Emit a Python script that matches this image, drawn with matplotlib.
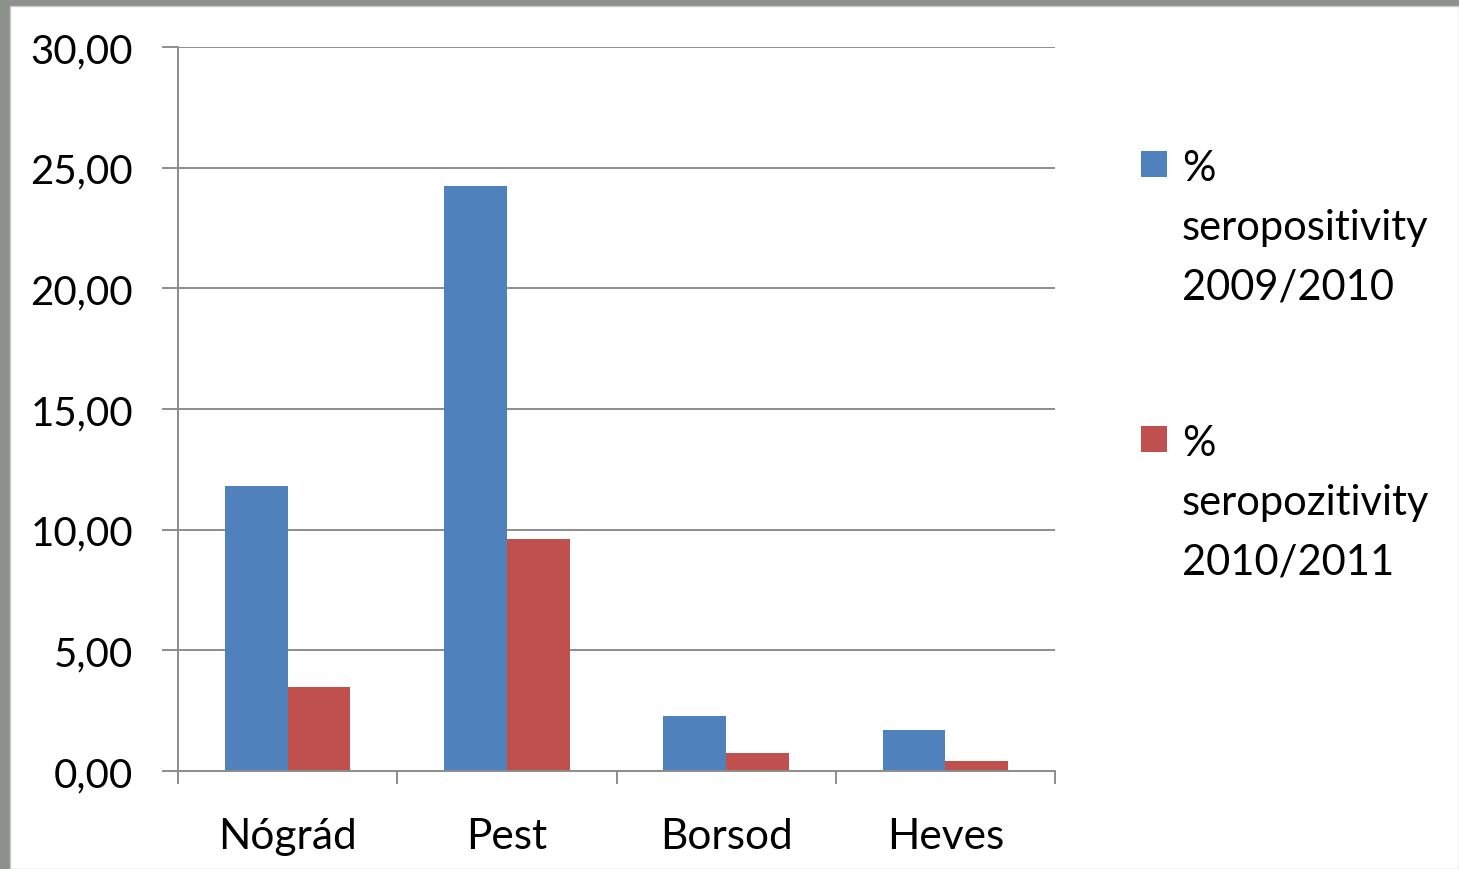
import matplotlib
matplotlib.use("Agg")
import matplotlib.pyplot as plt
import numpy as np
from matplotlib.patches import Rectangle
from matplotlib.ticker import FuncFormatter, FixedLocator

categories = ["Nógrád", "Pest", "Borsod", "Heves"]
series_labels = ["%\nseropositivity\n2009/2010", "%\nseropozitivity\n2010/2011"]
values_2009_2010 = [11.83, 24.22, 2.27, 1.70]
values_2010_2011 = [3.48, 9.62, 0.75, 0.42]
colors = ["#4F81BD", "#C0504D"]
yticks = [0, 5, 10, 15, 20, 25, 30]

FONT = "Lato"
W, H = 1459, 870
fig = plt.figure(figsize=(W / 100, H / 100), dpi=100)
fig.patch.set_facecolor("#8c918c")
bg = Rectangle((10 / W, 0), 1 - 10 / W, 1 - 7 / H, transform=fig.transFigure,
               facecolor="white", edgecolor="#c8c8c8", lw=1, zorder=-10)
fig.add_artist(bg)

ax = fig.add_axes([178 / W, 1 - 772 / H, (1055 - 178) / W, (772 - 48) / H])
ax.set_facecolor("none")
ax.set_zorder(1)

x = np.arange(len(categories))
bw = 1 / 3.5
ax.bar(x - bw / 2, values_2009_2010, width=bw, color=colors[0], zorder=3)
ax.bar(x + bw / 2, values_2010_2011, width=bw, color=colors[1], zorder=3)

ax.set_xlim(-0.5, len(categories) - 0.5)
ax.set_ylim(0, 30)
ax.set_yticks(yticks)
ax.yaxis.set_major_formatter(FuncFormatter(lambda v, p: f"{v:.2f}".replace(".", ",")))
ax.grid(axis="y", color="#8c8c8c", lw=1.4, zorder=1)
ax.set_axisbelow(True)
for s in ["top", "right"]:
    ax.spines[s].set_visible(False)
for s in ["left", "bottom"]:
    ax.spines[s].set_color("#8c8c8c")
    ax.spines[s].set_linewidth(1.4)
    ax.spines[s].set_zorder(4)

ax.tick_params(axis="y", length=11.5, width=1.4, color="#8c8c8c", pad=21,
               labelsize=29, labelcolor="black")
ax.set_xticks(x)
ax.set_xticklabels(categories)
ax.xaxis.set_minor_locator(FixedLocator(np.arange(-0.5, len(categories), 1.0)))
ax.tick_params(axis="x", which="major", length=0, pad=33, labelsize=30.5, labelcolor="black")
ax.tick_params(axis="x", which="minor", length=9.5, width=1.4, color="#8c8c8c")
for lab in ax.get_xticklabels() + ax.get_yticklabels():
    lab.set_fontfamily(FONT)

# legend drawn manually
leg_tops = [152, 427]
for lab, c, top in zip(series_labels, colors, leg_tops):
    fig.add_artist(Rectangle((1141 / W, 1 - (top + 26) / H), 26 / W, 26 / H,
                             transform=fig.transFigure, facecolor=c, edgecolor="none"))
    fig.text(1182 / W, 1 - (top - 2) / H, lab, ha="left", va="top", fontsize=30,
             family=FONT, linespacing=1.68, color="black")

fig.savefig("out.png", dpi=100)
